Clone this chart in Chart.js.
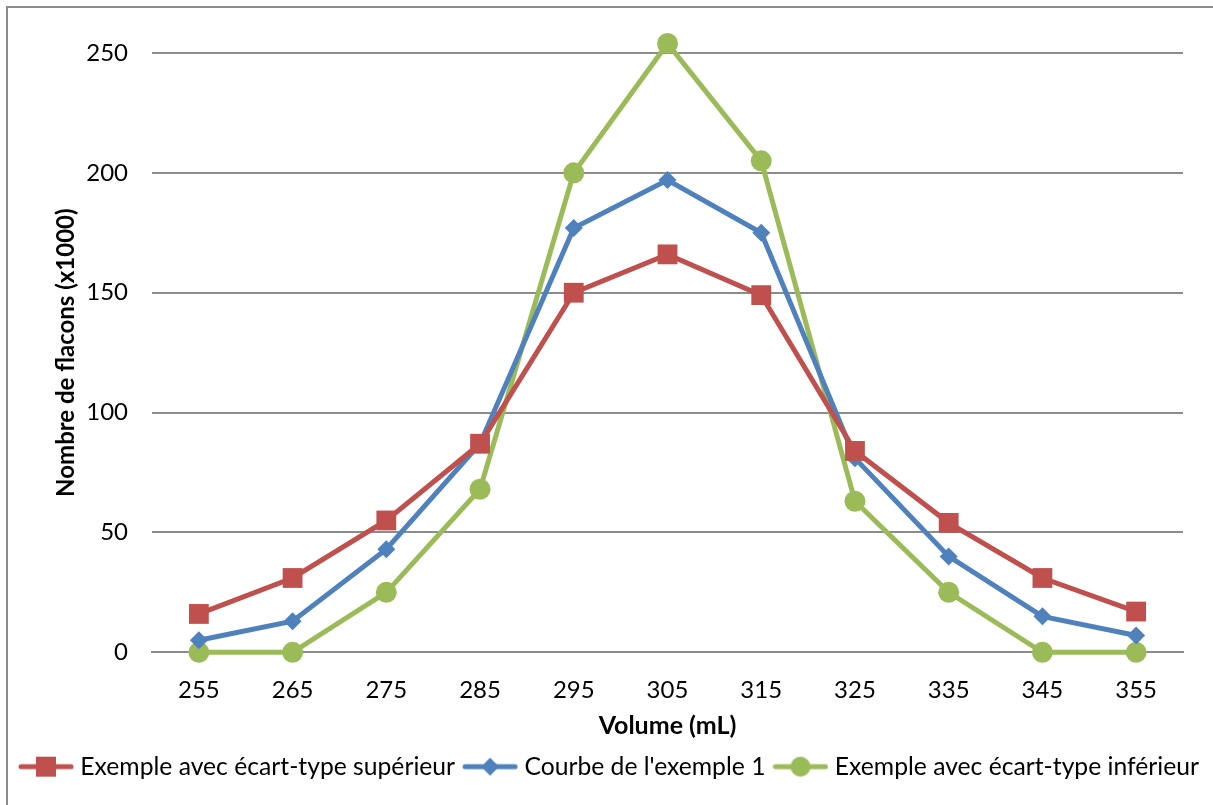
<!DOCTYPE html>
<html>
<head>
<meta charset="utf-8">
<script src="https://cdn.jsdelivr.net/npm/chart.js"></script>
<style>
  html, body { margin: 0; padding: 0; background: #fff; }
  #wrap { position: relative; width: 1213px; height: 805px; overflow: hidden; }
  #frame { position: absolute; left: 6px; top: 6px; width: 1400px; height: 1000px; border: 2px solid #8c8c8c; }
  #chart { position: absolute; left: 0; top: 0; }
</style>
</head>
<body>
<div id="wrap">
  <div id="frame"></div>
  <canvas id="chart" width="1213" height="805"></canvas>
</div>
<script>
    // données
    var volumes = ['255', '265', '275', '285', '295', '305', '315', '325', '335', '345', '355'];
    var superieur = [16, 31, 55, 87, 150, 166, 149, 84, 54, 31, 17];
    var exemple1 = [5, 13, 43, 87, 177, 197, 175, 81, 40, 15, 7];
    var inferieur = [0, 0, 25, 68, 200, 254, 205, 63, 25, 0, 0];
    var yTicks = [0, 50, 100, 150, 200, 250];

    var FONT = 'Lato, "Open Sans", sans-serif';
    var rouge = '#C0504D', bleu = '#4F81BD', vert = '#9BBB59';

    // petite icone de légende : trait + marqueur
    function legendIcon(color, style) {
        var c = document.createElement('canvas');
        c.width = 56; c.height = 24;
        var g = c.getContext('2d');
        g.strokeStyle = color;
        g.lineWidth = 5;
        g.lineCap = 'round';
        g.beginPath(); g.moveTo(3, 12); g.lineTo(53, 12); g.stroke();
        g.fillStyle = color;
        if (style === 'rect') {
            g.fillRect(18, 2, 20, 20);
        } else if (style === 'rectRot') {
            g.beginPath(); g.moveTo(28, 3); g.lineTo(37, 12); g.lineTo(28, 21); g.lineTo(19, 12); g.closePath(); g.fill();
        } else {
            g.beginPath(); g.arc(28, 12, 10, 0, Math.PI * 2); g.fill();
        }
        return c;
    }

    var series = [
        { label: 'Exemple avec écart-type supérieur', data: superieur, color: rouge, style: 'rect', r: 14 },
        { label: "Courbe de l'exemple 1", data: exemple1, color: bleu, style: 'rectRot', r: 9 },
        { label: 'Exemple avec écart-type inférieur', data: inferieur, color: vert, style: 'circle', r: 10.5 }
    ];

    var ctx = document.getElementById('chart').getContext('2d');
    var chart = new Chart(ctx, {
        type: 'line',
        data: {
            labels: volumes,
            datasets: series.map(function (s) {
                return {
                    label: s.label,
                    data: s.data,
                    borderColor: s.color,
                    backgroundColor: s.color,
                    borderWidth: 5,
                    pointStyle: s.style,
                    pointRadius: s.r,
                    pointBorderWidth: 0,
                    pointHoverRadius: s.r,
                    fill: false,
                    tension: 0,
                    clip: false,
                    icon: legendIcon(s.color, s.style)
                };
            })
        },
        options: {
            responsive: false,
            animation: false,
            layout: { padding: { top: 53, right: 0, left: 10, bottom: 16 } },
            plugins: {
                tooltip: { enabled: false },
                legend: {
                    position: 'bottom',
                    labels: {
                        usePointStyle: true,
                        pointStyleWidth: 44,
                        padding: 13,
                        color: '#000',
                        font: { family: FONT, size: 24.7 },
                        generateLabels: function (chart) {
                            return chart.data.datasets.map(function (d, i) {
                                return { text: d.label, pointStyle: d.icon, fillStyle: d.borderColor, strokeStyle: d.borderColor, lineWidth: 0, datasetIndex: i, fontColor: '#000' };
                            });
                        }
                    }
                }
            },
            scales: {
                x: {
                    offset: true,
                    grid: { display: false, drawTicks: false },
                    border: { display: true, color: '#8c8c8c', width: 2 },
                    ticks: { color: '#000', padding: 24, font: { family: FONT, size: 24 }, maxRotation: 0 },
                    title: { display: true, text: 'Volume (mL)', color: '#000', font: { family: FONT, size: 25, weight: 'bold' }, padding: { top: 0, bottom: 0 } },
                    afterFit: function (scale) { scale.height = 89; }
                },
                y: {
                    min: 0,
                    max: 250,
                    afterBuildTicks: function (scale) { scale.ticks = yTicks.map(function (v) { return { value: v }; }); },
                    grid: { color: '#8c8c8c', lineWidth: 2, drawTicks: false },
                    border: { display: false },
                    ticks: { color: '#000', padding: 24, font: { family: FONT, size: 24 } },
                    title: { display: true, text: 'Nombre de flacons (x1000)', color: '#000', font: { family: FONT, size: 24, weight: 'bold' }, padding: { top: 42, bottom: 0 } },
                    afterFit: function (scale) { scale.width = 142; }
                },
                // axe vide à droite pour la marge du graphique
                yDroite: {
                    position: 'right',
                    grid: { display: false, drawTicks: false },
                    border: { display: false },
                    ticks: { display: false },
                    afterFit: function (scale) { scale.width = 30; }
                }
            }
        }
    });
</script>
</body>
</html>
